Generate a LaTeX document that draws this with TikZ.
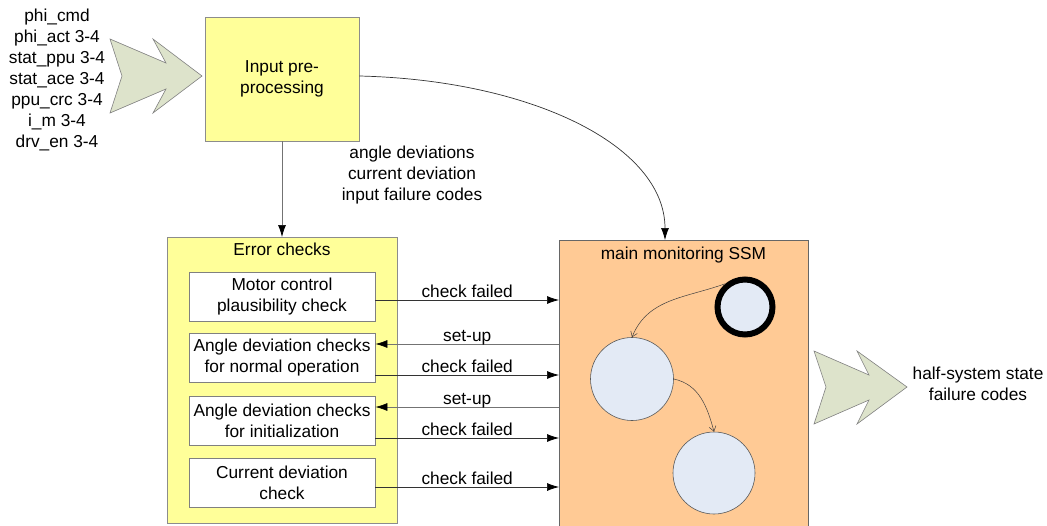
\documentclass[tikz,border=0pt]{standalone}
\usepackage{fontspec}
\setmainfont{Liberation Sans}
\usetikzlibrary{arrows.meta,calc}
\definecolor{yelfill}{HTML}{FFFF99}
\definecolor{orfill}{HTML}{FFCA95}
\definecolor{stfill}{HTML}{E3EAF5}
\definecolor{chfill}{HTML}{DDE3CB}
\tikzset{
  txt/.style={font=\fontsize{17.3}{21}\selectfont, align=center, inner sep=0pt},
  ybox/.style={draw=black!45, fill=yelfill, line width=0.8pt, inner sep=0pt},
  wbox/.style={draw=black!50, fill=white, line width=0.8pt, inner sep=0pt,
    minimum width=186pt, minimum height=49pt, txt},
  ssmbox/.style={draw=black!60, fill=orfill, line width=0.8pt, inner sep=0pt},
  stnode/.style={circle, draw=black!65, fill=stfill, line width=0.6pt, inner sep=0pt},
  conn/.style={draw=black!80, line width=0.7pt, -{Latex[length=12pt,width=8pt,color=black]}},
  gconn/.style={draw=black!55, line width=0.7pt, -{Latex[length=12pt,width=8pt,color=black]}},
  trans/.style={draw=black!75, line width=0.5pt, -{Straight Barb[length=5pt,width=7pt]}},
  chev/.style={draw=black!50, fill=chfill, line width=0.6pt},
  lbl/.style={txt, anchor=base},
}
\begin{document}
\begin{tikzpicture}[x=1pt,y=-1pt]
\useasboundingbox (0,0) rectangle (1047,525);
% input chevron
\draw[chev] (110,39) -- (166,63) -- (153,39) -- (202,76) -- (153,113) -- (166,89) -- (110,113) -- (122,76) -- cycle;
\node[txt] (inputs) at (57,80) {phi\_cmd\\phi\_act 3-4\\stat\_ppu 3-4\\stat\_ace 3-4\\ppu\_crc 3-4\\i\_m 3-4\\drv\_en 3-4};
% input preprocessing
\node[ybox, minimum width=154pt, minimum height=124pt, txt] (pre) at (282,79) {Input pre-\\processing};
\node[txt] (sig) at (412,175) {angle deviations\\current deviation\\input failure codes};
% error checks
\node[ybox, minimum width=230pt, minimum height=286pt, anchor=north west] (err) at (167,237) {};
\node[txt, anchor=base] (errt) at (282,255) {Error checks};
\node[wbox] (b1) at (282,296.5) {Motor control\\plausibility check};
\node[wbox] (b2) at (282,358) {Angle deviation checks\\for normal operation};
\node[wbox] (b3) at (282,420.5) {Angle deviation checks\\for initialization};
\node[wbox] (b4) at (282,482.5) {Current deviation\\check};
% SSM
\node[ssmbox, minimum width=249pt, minimum height=290pt, anchor=north west] (ssm) at (559,240) {};
\node[txt, anchor=base] (ssmt) at (683.5,259) {main monitoring SSM};
\node[stnode, draw=black, line width=6pt, minimum size=55pt] (s0) at (745,307) {};
\node[stnode, minimum size=83pt] (s1) at (632,379) {};
\node[stnode, minimum size=82pt] (s2) at (714,473) {};
\draw[trans] (s0.130) to[out=200, in=68] (s1.north);
\draw[trans] (s1.east) to[out=-12, in=105] (s2.north);
% output chevron
\draw[chev] (814,351) -- (869,375) -- (857,351) -- (907,387) -- (857,424) -- (869,400) -- (814,424) -- (826,387) -- cycle;
\node[txt] (outs) at (978,384) {half-system state\\failure codes};
% connectors
\draw[gconn] (pre.south) -- (err.north -| pre.south);
\coordinate (p0) at ($(pre.east)+(0,-3)$);
\coordinate (p1) at ($(ssm.north west)+(106,0)$);
\draw[conn] (p0) .. controls (530,80) and (665,145) .. (p1);
\coordinate (c1) at ($(b1.east)+(0,3.5)$);
\draw[conn] (c1) -- (c1 -| ssm.west);
\node[lbl] at ($(c1)!0.5!(c1 -| ssm.west)+(0,-3)$) {check failed};
\coordinate (u2) at ($(b2.east)+(0,-14)$);
\draw[gconn] (u2 -| ssm.west) -- (u2);
\node[lbl] at ($(u2)!0.5!(u2 -| ssm.west)+(0,-3)$) {set-up};
\coordinate (c2) at ($(b2.east)+(0,17)$);
\draw[conn] (c2) -- (c2 -| ssm.west);
\node[lbl] at ($(c2)!0.5!(c2 -| ssm.west)+(0,-3)$) {check failed};
\coordinate (u3) at ($(b3.east)+(0,-13.5)$);
\draw[gconn] (u3 -| ssm.west) -- (u3);
\node[lbl] at ($(u3)!0.5!(u3 -| ssm.west)+(0,-3)$) {set-up};
\coordinate (c3) at ($(b3.east)+(0,17.5)$);
\draw[conn] (c3) -- (c3 -| ssm.west);
\node[lbl] at ($(c3)!0.5!(c3 -| ssm.west)+(0,-3)$) {check failed};
\coordinate (c4) at ($(b4.east)+(0,4.5)$);
\draw[conn] (c4) -- (c4 -| ssm.west);
\node[lbl] at ($(c4)!0.5!(c4 -| ssm.west)+(0,-3)$) {check failed};
\end{tikzpicture}
\end{document}
